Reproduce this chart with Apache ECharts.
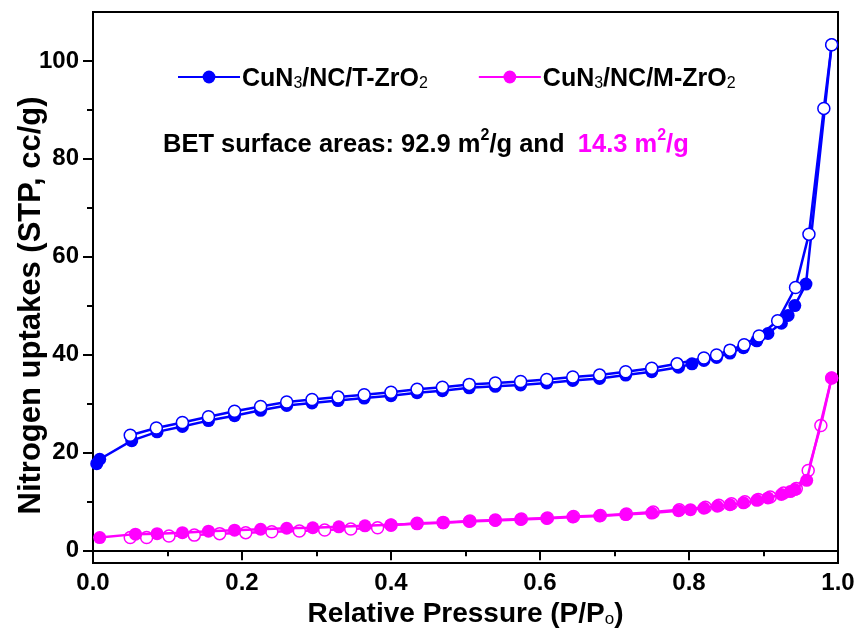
<!DOCTYPE html>
<html>
<head>
<meta charset="utf-8">
<script src="https://cdn.jsdelivr.net/npm/echarts@6/dist/echarts.min.js"></script>
<style>
  html, body { margin: 0; padding: 0; background: #fff; }
  #chart { width: 861px; height: 634px; }
</style>
</head>
<body>
<div id="chart"></div>
<script>
// CuN3/NC/T-ZrO2, adsorption (filled) and desorption (open)
const tAdsP = [0.005, 0.009, 0.052, 0.086, 0.12, 0.155, 0.19, 0.225, 0.26, 0.294, 0.329, 0.364, 0.4, 0.435, 0.469, 0.505, 0.54, 0.574, 0.609, 0.644, 0.68, 0.715, 0.75, 0.786, 0.804, 0.82, 0.837, 0.855, 0.873, 0.891, 0.906, 0.924, 0.933, 0.942, 0.957, 0.9915];
const tAdsV = [17.7, 18.6, 22.4, 24.2, 25.3, 26.5, 27.5, 28.6, 29.6, 30.1, 30.6, 31.1, 31.6, 32.2, 32.6, 33.2, 33.5, 33.8, 34.2, 34.7, 35.1, 35.8, 36.5, 37.4, 38.1, 38.8, 39.4, 40.3, 41.4, 42.8, 44.3, 46.4, 48.0, 50.0, 54.4, 103.3];
const tDesP = [0.9915, 0.981, 0.961, 0.943, 0.919, 0.894, 0.874, 0.855, 0.837, 0.82, 0.784, 0.75, 0.715, 0.68, 0.644, 0.609, 0.574, 0.54, 0.505, 0.469, 0.435, 0.4, 0.364, 0.329, 0.294, 0.26, 0.225, 0.19, 0.155, 0.12, 0.085, 0.05];
const tDesV = [103.3, 90.3, 64.6, 53.7, 46.9, 43.8, 42.0, 40.9, 39.9, 39.3, 38.1, 37.2, 36.5, 35.8, 35.4, 34.9, 34.5, 34.2, 33.9, 33.3, 32.9, 32.3, 31.8, 31.3, 30.8, 30.3, 29.4, 28.4, 27.3, 26.1, 25.0, 23.5];

// CuN3/NC/M-ZrO2
const mAdsP = [0.009, 0.057, 0.086, 0.12, 0.155, 0.19, 0.225, 0.26, 0.295, 0.33, 0.365, 0.4, 0.435, 0.47, 0.505, 0.54, 0.574, 0.609, 0.644, 0.68, 0.715, 0.75, 0.786, 0.802, 0.82, 0.838, 0.855, 0.873, 0.891, 0.906, 0.924, 0.936, 0.942, 0.958, 0.9915];
const mAdsV = [2.6, 3.3, 3.4, 3.6, 3.9, 4.1, 4.3, 4.5, 4.6, 4.8, 5.0, 5.2, 5.4, 5.6, 5.9, 6.1, 6.3, 6.5, 6.8, 7.0, 7.3, 7.6, 8.1, 8.3, 8.6, 9.0, 9.3, 9.7, 10.2, 10.7, 11.4, 12.0, 12.4, 14.3, 35.2];
const mDesP = [0.9915, 0.977, 0.96, 0.944, 0.927, 0.909, 0.893, 0.875, 0.857, 0.84, 0.822, 0.787, 0.752, 0.716, 0.681, 0.645, 0.61, 0.575, 0.54, 0.506, 0.47, 0.435, 0.4, 0.382, 0.346, 0.311, 0.277, 0.24, 0.205, 0.17, 0.136, 0.102, 0.072, 0.05];
const mDesV = [35.2, 25.5, 16.3, 12.6, 11.7, 10.9, 10.4, 9.9, 9.5, 9.2, 8.8, 8.3, 7.8, 7.4, 7.1, 6.9, 6.6, 6.4, 6.2, 6.0, 5.7, 5.5, 5.1, 4.6, 4.35, 4.15, 3.95, 3.8, 3.6, 3.4, 3.1, 2.9, 2.6, 2.6];

const yMajor = [0, 20, 40, 60, 80, 100];
const yMinor = [10, 30, 50, 70, 90];

const BLUE = '#0000ff';
const MAGENTA = '#ff00ff';
const FONT = '"Liberation Sans", Arial, sans-serif';

const pairs = (p, v) => p.map((x, i) => [x, v[i]]);

const chart = echarts.init(document.getElementById('chart'));

function filled(name, color, data, z) {
  return {
    name, type: 'line', data, z, clip: false,
    symbol: 'circle', symbolSize: 13,
    lineStyle: { color, width: 2.5 },
    itemStyle: { color, borderColor: color, borderWidth: 0 },
    emphasis: { disabled: true }
  };
}
function open(name, color, data, z) {
  return {
    name, type: 'line', data, z, clip: false,
    symbol: 'circle', symbolSize: 12,
    lineStyle: { color, width: 2.5 },
    itemStyle: { color: '#fff', borderColor: color, borderWidth: 1.5 },
    emphasis: { disabled: true }
  };
}

const legRich = {
  b: { fontFamily: FONT, fontWeight: 'bold', fontSize: 25, color: '#000', lineHeight: 30, verticalAlign: 'bottom' },
  s: { fontFamily: FONT, fontSize: 16, color: '#000', lineHeight: 25, verticalAlign: 'bottom' }
};

chart.setOption({
  animation: false,
  backgroundColor: '#fff',
  grid: {
    left: 93, right: 23, top: 12, bottom: 71,
    containLabel: false, outerBoundsMode: 'none',
    show: true, borderColor: '#000', borderWidth: 2
  },
  legend: {
    data: ['CuN3/NC/T-ZrO2', 'CuN3/NC/M-ZrO2'],
    left: 172, top: 62,
    itemWidth: 62, itemHeight: 16, itemGap: 50,
    selectedMode: false,
    formatter: function (n) {
      return n === 'CuN3/NC/T-ZrO2'
        ? '{b|CuN}{s|3}{b|/NC/T-ZrO}{s|2}'
        : '{b|CuN}{s|3}{b|/NC/M-ZrO}{s|2}';
    },
    textStyle: { rich: legRich, padding: [0, 0, 0, -3] }
  },
  xAxis: {
    type: 'value', min: 0, max: 1, interval: 0.2,
    name: '{b|Relative Pressure (P/P}{s|o}{b|)}',
    nameLocation: 'middle', nameGap: 27,
    nameTextStyle: {
      rich: {
        b: { fontFamily: FONT, fontWeight: 'bold', fontSize: 28, color: '#000', lineHeight: 32, verticalAlign: 'bottom' },
        s: { fontFamily: FONT, fontSize: 17, color: '#000', lineHeight: 27, verticalAlign: 'bottom' }
      }
    },
    axisLine: { lineStyle: { color: '#000', width: 2 } },
    axisTick: { length: 10, lineStyle: { color: '#000', width: 2 } },
    minorTick: { show: true, splitNumber: 2, length: 6, lineStyle: { color: '#000', width: 2 } },
    splitLine: { show: false },
    axisLabel: {
      margin: 8, color: '#000', fontFamily: FONT, fontWeight: 'bold', fontSize: 24,
      formatter: v => v.toFixed(1)
    }
  },
  yAxis: [{
    type: 'value', min: -2.6, max: 110,
    name: 'Nitrogen uptakes (STP, cc/g)',
    nameLocation: 'middle', nameGap: 46, nameMoveOverlap: false,
    nameTextStyle: { fontFamily: FONT, fontWeight: 'bold', fontSize: 31, color: '#000', padding: [0, 36, 0, 0] },
    axisLine: { show: true, lineStyle: { color: '#000', width: 2 } },
    axisTick: { length: 10, customValues: yMajor, lineStyle: { color: '#000', width: 2 } },
    splitLine: { show: false },
    axisLabel: {
      margin: 14, color: '#000', fontFamily: FONT, fontWeight: 'bold', fontSize: 24,
      customValues: yMajor
    }
  }, {
    type: 'value', min: -2.6, max: 110, position: 'left',
    axisLine: { show: false },
    axisTick: { show: true, length: 6, customValues: yMinor, lineStyle: { color: '#000', width: 2 } },
    axisLabel: { show: false },
    splitLine: { show: false }
  }],
  graphic: [{
    type: 'text', left: 163, top: 128,
    style: {
      text: '{k|BET surface areas: 92.9 m}{ks|2}{k|/g and}    {m|14.3 m}{ms|2}{m|/g}',
      rich: {
        k: { fontFamily: FONT, fontWeight: 'bold', fontSize: 25.5, fill: '#000', lineHeight: 30, verticalAlign: 'bottom' },
        ks: { fontFamily: FONT, fontWeight: 'bold', fontSize: 16, fill: '#000', lineHeight: 18, verticalAlign: 'top' },
        m: { fontFamily: FONT, fontWeight: 'bold', fontSize: 25.5, fill: MAGENTA, lineHeight: 30, verticalAlign: 'bottom' },
        ms: { fontFamily: FONT, fontWeight: 'bold', fontSize: 16, fill: MAGENTA, lineHeight: 18, verticalAlign: 'top' }
      }
    }
  }],
  series: [
    filled('CuN3/NC/T-ZrO2', BLUE, pairs(tAdsP, tAdsV), 2),
    open('T-ZrO2 desorption', BLUE, pairs(tDesP, tDesV), 3),
    open('M-ZrO2 desorption', MAGENTA, pairs(mDesP, mDesV), 4),
    filled('CuN3/NC/M-ZrO2', MAGENTA, pairs(mAdsP, mAdsV), 5)
  ]
});
</script>
</body>
</html>
